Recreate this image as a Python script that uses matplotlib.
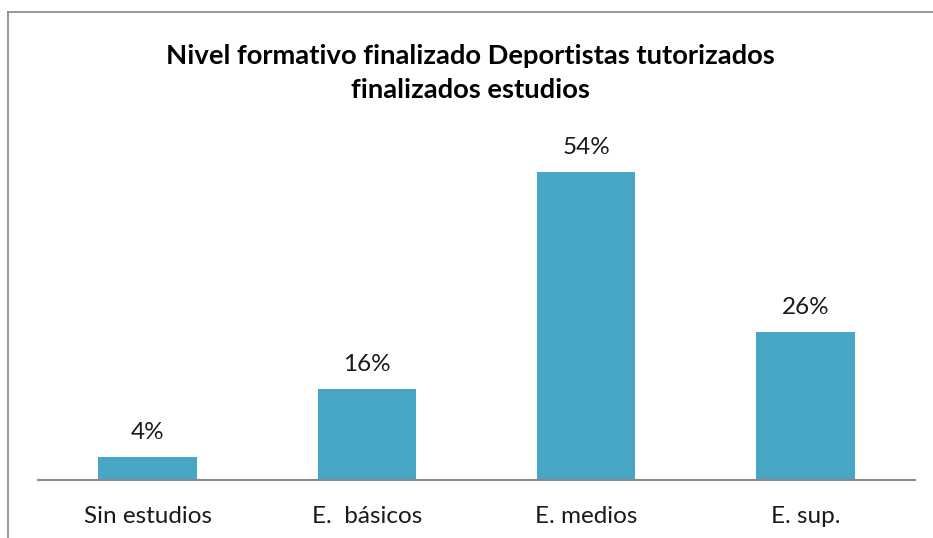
import matplotlib
matplotlib.use("Agg")
import matplotlib.pyplot as plt
from matplotlib.lines import Line2D

# chart data
categories = ["Sin estudios", "E.  básicos", "E. medios", "E. sup."]
values = [4, 16, 54, 26]
value_labels = ["4%", "16%", "54%", "26%"]
title = "Nivel formativo finalizado Deportistas tutorizados\nfinalizados estudios"

plt.rcParams['font.family'] = ['Lato', 'DejaVu Sans']

fig = plt.figure(figsize=(9.33, 5.38), dpi=100)
W, H = 933, 538

# plot area: baseline at y=480px, x from 38 to 915px
ax = fig.add_axes([38 / W, (H - 480) / H, (915 - 38) / W, (480 - 130) / H])
x = list(range(len(categories)))
bars = ax.bar(x, values, width=0.45, color='#48A6C5')
ax.set_xlim(-0.5, len(categories) - 0.5)
ax.set_ylim(0, 350 / 5.7)

for rect, lab in zip(bars, value_labels):
    ax.annotate(lab, (rect.get_x() + rect.get_width() / 2, rect.get_height()),
                xytext=(0, 10), textcoords='offset points',
                ha='center', va='bottom', fontsize=17.5, color='#1a1a1a')

ax.set_xticks(x)
ax.set_xticklabels(categories, fontsize=17.5, color='#1a1a1a')
ax.tick_params(axis='x', length=0, pad=19)
ax.set_yticks([])
for side in ['top', 'right', 'left']:
    ax.spines[side].set_visible(False)
ax.spines['bottom'].set_color('#888888')
ax.spines['bottom'].set_linewidth(1.5)

fig.text(470 / W, 1 - 73 / H, title, ha='center', va='center',
         fontsize=19.7, fontweight='bold', color='#000000', linespacing=1.5)

# chart border (left and top only visible)
fig.add_artist(Line2D([8 / W, 8 / W], [0, 1 - 12 / H], transform=fig.transFigure,
                      color='#888888', linewidth=1.2))
fig.add_artist(Line2D([8 / W, 1], [1 - 12 / H, 1 - 12 / H], transform=fig.transFigure,
                      color='#888888', linewidth=1.2))

fig.savefig('out.png', dpi=100)
